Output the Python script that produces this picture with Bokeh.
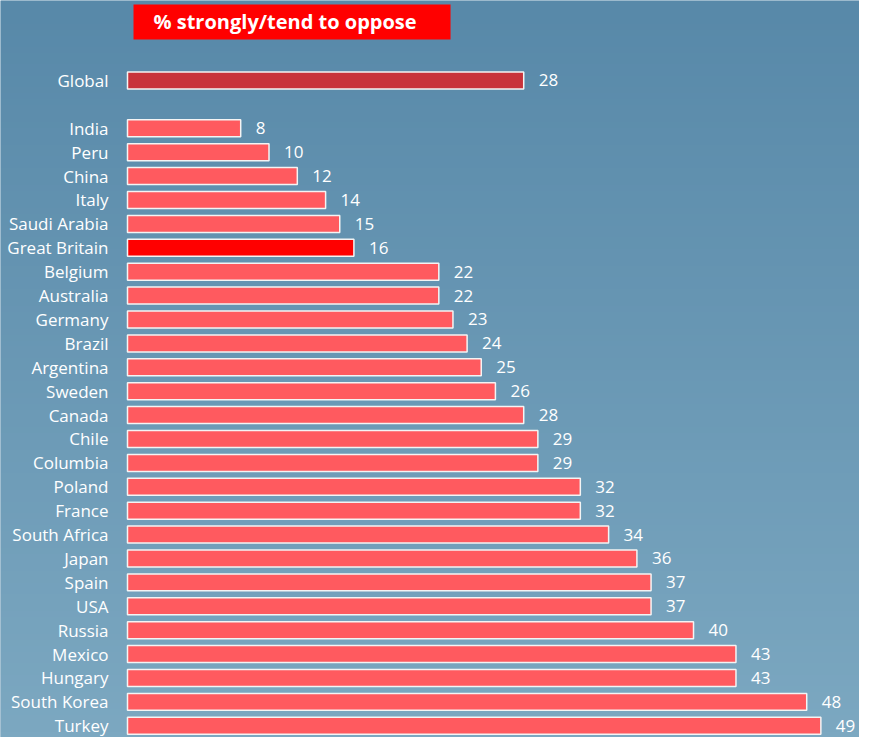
import numpy as np
from bokeh.plotting import figure
from bokeh.models import Range1d, ColumnDataSource, Label
from bokeh.core.properties import value
from bokeh.embed import file_html
from bokeh.resources import INLINE

# ---- data ----
title_text = "% strongly/tend to oppose"
global_label = "Global"
global_value = 28
countries = ["India", "Peru", "China", "Italy", "Saudi Arabia", "Great Britain",
             "Belgium", "Australia", "Germany", "Brazil", "Argentina", "Sweden",
             "Canada", "Chile", "Columbia", "Poland", "France", "South Africa",
             "Japan", "Spain", "USA", "Russia", "Mexico", "Hungary",
             "South Korea", "Turkey"]
values = [8, 10, 12, 14, 15, 16, 22, 22, 23, 24, 25, 26, 28, 29, 29, 32, 32,
          34, 36, 37, 37, 40, 43, 43, 48, 49]
highlight = "Great Britain"

# ---- styles ----
BAR = "#FF5A5F"
GLOBAL_BAR = "#C8333B"
HIGHLIGHT_BAR = "#FF0000"
FONT = "Open Sans"

W, H = 859, 737
x_range = Range1d(-8.975, 51.73)
y_range = Range1d(25.49, -5.347)

p = figure(width=W, height=H, x_range=x_range, y_range=y_range,
           output_backend="svg", toolbar_location=None, min_border=0)
p.axis.visible = False
p.grid.visible = False
p.outline_line_color = None
p.border_fill_color = "#6A98B6"
p.background_fill_color = "#6A98B6"

# background gradient (row 0 = top of the chart, since y axis is reversed)
n = 128
top = np.array([0x58, 0x89, 0xA9], dtype=float)
bot = np.array([0x7C, 0xA8, 0xC1], dtype=float)
t = np.linspace(0, 1, n)[:, None]
cols = (top * (1 - t) + bot * t).astype(np.uint32)
img = np.empty((n, 1), dtype=np.uint32)
view = img.view(dtype=np.uint8).reshape((n, 1, 4))
view[:, 0, 0] = cols[:, 0]
view[:, 0, 1] = cols[:, 1]
view[:, 0, 2] = cols[:, 2]
view[:, 0, 3] = 255
p.image_rgba(image=[img], x=x_range.start, y=y_range.end,
             dw=x_range.end - x_range.start, dh=y_range.start - y_range.end)

# rows
rows = [-2] + list(range(len(countries)))
labels = [global_label] + countries
vals = [global_value] + values
colors = [GLOBAL_BAR] + [HIGHLIGHT_BAR if c == highlight else BAR for c in countries]
src = ColumnDataSource(dict(y=rows, label=labels, v=vals, color=colors,
                            vtxt=[str(v) for v in vals], zero=[0] * len(vals)))

p.hbar(y="y", left="zero", right="v", height=0.71, fill_color="color",
       line_color="#F4F4F4", line_width=1.5, source=src)

p.text(x="zero", y="y", text="label", source=src, x_offset=-19,
       text_align="right", text_baseline="middle", text_color="white",
       text_font=value(FONT), text_font_size="17px")
p.text(x="v", y="y", text="vtxt", source=src, x_offset=15,
       text_align="left", text_baseline="middle", text_color="white",
       text_font=value(FONT), text_font_size="17px")

# title box
p.quad(left=[0.424], right=[22.83], top=[-5.18], bottom=[-3.715],
       fill_color="#FF0000", line_color=None)
p.add_layout(Label(x=1.84, y=-4.448, text=title_text, text_color="white",
                   text_font=FONT, text_font_size="20px", text_font_style="bold",
                   text_baseline="middle", text_align="left"))

open("out.html", "w").write(file_html(p, INLINE))
